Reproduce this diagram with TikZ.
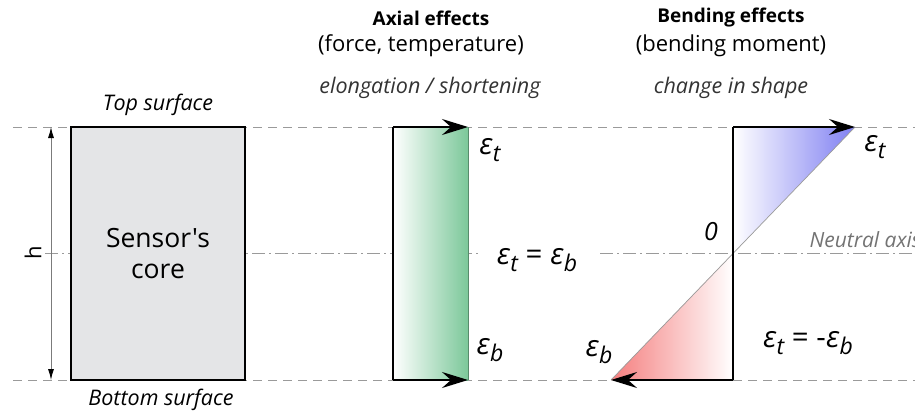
\documentclass[tikz,border=0pt]{standalone}
\usepackage{fontspec}
\setmainfont{Open Sans}[Ligatures=TeXOff]
\usepackage{xcolor}
\usetikzlibrary{arrows.meta,positioning,calc}

\definecolor{guide}{HTML}{9A9A9A}
\definecolor{coregray}{HTML}{E4E5E7}
\definecolor{axgreen}{HTML}{7CC89A}
\definecolor{bendblue}{HTML}{7F7FF2}
\definecolor{bendred}{HTML}{F57E7E}
\newcommand{\strain}[1]{\textit{ε\kern0.3pt\raisebox{-0.45ex}{\fontsize{23}{23}\selectfont #1}}}

\tikzset{
 guideline/.style={guide,line width=0.9pt,dash pattern=on 9pt off 6pt},
 axisline/.style={guide,line width=0.9pt,dash pattern=on 13pt off 4pt on 2pt off 4pt},
 edge/.style={black,line width=2pt},
 strainarrow/.style={black,line width=2pt,-{Stealth[length=26pt,width=16pt,inset=9pt]}},
 headline/.style={font=\fontsize{19}{22}\selectfont\bfseries},
 subline/.style={font=\fontsize{22}{25}\selectfont},
 noteline/.style={font=\fontsize{21.5}{24}\selectfont\itshape,text=black!80},
 strainlab/.style={font=\fontsize{29.5}{32}\selectfont,inner sep=1pt}
}

\begin{document}
\begin{tikzpicture}[x=1pt,y=-1pt]
\useasboundingbox (0,0) rectangle (915,412);
\clip (0,0) rectangle (915,412);

% surface and axis guides
\draw[guideline] (13,127) -- (915,127);
\draw[guideline] (13,380) -- (915,380);
\draw[axisline] (45,253) -- (480,253);
\draw[axisline] (600,253) -- (915,253);

% sensor core
\node[draw=black,line width=2pt,fill=coregray,minimum width=174pt,minimum height=253pt,
 align=center,font=\fontsize{26.5}{31}\selectfont] (core) at (158,253.5) {Sensor's\\core};
\node[font=\fontsize{21.5}{24}\selectfont\itshape] (top) at (158,105) {Top surface};
\node[font=\fontsize{21.5}{24}\selectfont\itshape] (bottom) at (161,400) {Bottom surface};
\coordinate (ht) at (51,127);
\coordinate (hb) at (51,380);
\draw[guide!80!black,line width=0.9pt,{Latex[length=11pt,width=6pt,black]}-{Latex[length=11pt,width=6pt,black]}] (ht) -- (hb);
\node[rotate=90,font=\fontsize{22}{25}\selectfont] (hlab) at (33,253) {h};

% axial effects
\node[headline] (axhead) at (431,18) {Axial effects};
\node[subline] (axsub) at (421,46) {(force, temperature)};
\node[noteline] (axnote) at (430,88) {elongation / shortening};
\coordinate (axtl) at (393,127);
\coordinate (axbl) at (393,380);
\coordinate (axtr) at (468,127);
\coordinate (axbr) at (468,380);
\shade[left color=white,right color=axgreen] (axtl) rectangle (axbr);
\draw[axgreen!70!black,line width=0.8pt] (axtr) -- (axbr);
\draw[edge] (axtl) -- (axbl);
\draw[strainarrow] (axtl) -- (axtr);
\draw[strainarrow] (axbl) -- (axbr);
\node[strainlab] (axet) at (490,150) {\strain{t}};
\node[strainlab] (axeb) at (490,350) {\strain{b}};
\node[strainlab] (axeq) at (537,260) {\strain{t} = \strain{b}};

% bending effects
\node[headline] (bdhead) at (731,18) {Bending effects};
\node[subline] (bdsub) at (731,46) {(bending moment)};
\node[noteline] (bdnote) at (731,88) {change in shape};
\coordinate (bdzero) at (733,253);
\coordinate (bdtop) at (733,127);
\coordinate (bdbot) at (733,380);
\coordinate (bdtip) at (855,127);
\coordinate (bdtail) at (611,380);
\shade[left color=white,right color=bendblue] (bdtop) -- (bdtip) -- (bdzero) -- cycle;
\shade[left color=bendred,right color=white] (bdzero) -- (bdbot) -- (bdtail) -- cycle;
\draw[guide,line width=0.7pt] (bdtail) -- (bdtip);
\draw[edge] (bdtop) -- (bdbot);
\draw[strainarrow] (bdtop) -- (bdtip);
\draw[strainarrow] (bdbot) -- (bdtail);
\node[strainlab] (bdet) at (875,147) {\strain{t}};
\node[strainlab] (bdeb) at (599,352) {\strain{b}};
\node[strainlab] (bdeq) at (808,343) {\strain{t} = -\strain{b}};
\node[strainlab,font=\fontsize{25}{28}\selectfont\itshape] (zero) at (711,232) {0};
\node[anchor=west,font=\fontsize{21}{24}\selectfont\itshape,text=black!55] (neutral) at (806,240) {Neutral axis};
\end{tikzpicture}
\end{document}
